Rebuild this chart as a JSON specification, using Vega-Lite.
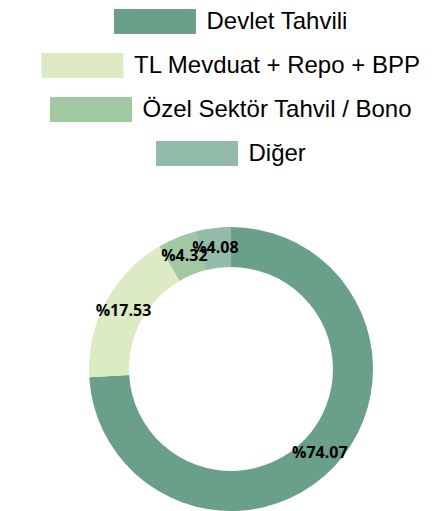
{
  "$schema": "https://vega.github.io/schema/vega-lite/v6.json",
  "width": 430,
  "height": 284,
  "padding": {"left": 16, "top": 9, "right": 0, "bottom": 0},
  "autosize": {"type": "pad"},
  "background": "white",
  "data": {"values": [
    {"kategori": "Devlet Tahvili", "oran": 74.07, "etiket": "%74.07"},
    {"kategori": "TL Mevduat + Repo + BPP", "oran": 17.53, "etiket": "%17.53"},
    {"kategori": "Özel Sektör Tahvil / Bono", "oran": 4.32, "etiket": "%4.32"},
    {"kategori": "Diğer", "oran": 4.08, "etiket": "%4.08"}
  ]},
  "transform": [
    {"stack": "oran", "groupby": [], "sort": [{"field": "oran", "order": "descending"}], "as": ["t0", "t1"]}
  ],
  "layer": [
    {
      "transform": [{"filter": "datum.kategori === 'Devlet Tahvili'"}],
      "mark": {"type": "arc", "innerRadius": 102, "outerRadius": 142},
      "encoding": {
        "theta": {"field": "t0", "type": "quantitative", "scale": {"domain": [0, 100]}},
        "theta2": {"field": "t1"},
        "color": {"field": "kategori", "type": "nominal", "scale": {"range": ["#6a9f89"]}, "legend": {"orient": "top"}}
      }
    },
    {
      "transform": [{"filter": "datum.kategori === 'TL Mevduat + Repo + BPP'"}],
      "mark": {"type": "arc", "innerRadius": 102, "outerRadius": 142},
      "encoding": {
        "theta": {"field": "t0", "type": "quantitative", "scale": {"domain": [0, 100]}},
        "theta2": {"field": "t1"},
        "color": {"field": "kategori", "type": "nominal", "scale": {"range": ["#dcebc3"]}, "legend": {"orient": "top"}}
      }
    },
    {
      "transform": [{"filter": "datum.kategori === 'Özel Sektör Tahvil / Bono'"}],
      "mark": {"type": "arc", "innerRadius": 102, "outerRadius": 142},
      "encoding": {
        "theta": {"field": "t0", "type": "quantitative", "scale": {"domain": [0, 100]}},
        "theta2": {"field": "t1"},
        "color": {"field": "kategori", "type": "nominal", "scale": {"range": ["#a2c8a3"]}, "legend": {"orient": "top"}}
      }
    },
    {
      "transform": [{"filter": "datum.kategori === 'Diğer'"}],
      "mark": {"type": "arc", "innerRadius": 102, "outerRadius": 142},
      "encoding": {
        "theta": {"field": "t0", "type": "quantitative", "scale": {"domain": [0, 100]}},
        "theta2": {"field": "t1"},
        "color": {"field": "kategori", "type": "nominal", "scale": {"range": ["#93bba9"]}, "legend": {"orient": "top"}}
      }
    },
    {
      "mark": {"type": "text", "radius": 122, "font": "Open Sans", "fontWeight": "bold", "fontSize": 16, "color": "black"},
      "encoding": {
        "theta": {"field": "oran", "type": "quantitative", "stack": true},
        "order": {"field": "oran", "sort": "descending"},
        "detail": {"field": "kategori"},
        "text": {"field": "etiket"}
      }
    }
  ],
  "resolve": {"scale": {"color": "independent"}, "legend": {"color": "independent"}},
  "config": {
    "view": {"stroke": null},
    "legend": {
      "title": null,
      "symbolType": "M-3.28,-1H3.28V1H-3.28Z",
      "symbolSize": 625,
      "symbolStrokeWidth": 0,
      "symbolOpacity": 1,
      "symbolOffset": 29,
      "labelFont": "Liberation Sans",
      "labelFontSize": 24,
      "labelColor": "black",
      "labelOffset": 39,
      "labelLimit": 400,
      "offset": 61,
      "layout": {"top": {"anchor": "middle", "direction": "vertical", "center": true, "margin": 19}}
    }
  }
}
